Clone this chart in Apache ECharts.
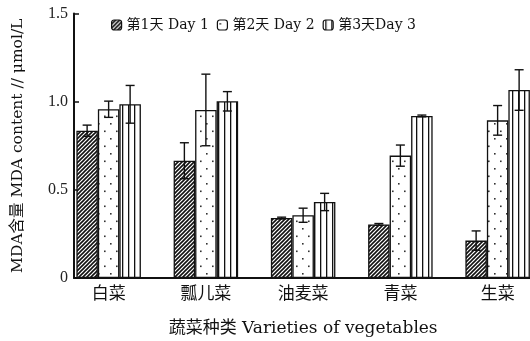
<!DOCTYPE html>
<html>
<head>
<meta charset="utf-8">
<script src="https://cdn.jsdelivr.net/npm/echarts@6/dist/echarts.min.js"></script>
<style>
  html, body { margin: 0; padding: 0; background: #fff; }
  #chart { width: 530px; height: 341px; }
</style>
</head>
<body>
<div id="chart"></div>
<script>
// Vegetable varieties and MDA content (μmol/L) over three days, with error half-widths
const categories = ['白菜', '瓢儿菜', '油麦菜', '青菜', '生菜'];
const seriesNames = ['第1天 Day 1', '第2天 Day 2', '第3天Day 3'];
const day1 = [0.835, 0.665, 0.340, 0.304, 0.212];
const day2 = [0.957, 0.953, 0.356, 0.694, 0.894];
const day3 = [0.985, 1.002, 0.431, 0.919, 1.066];
const err1 = [0.032, 0.102, 0.005, 0.005, 0.055];
const err2 = [0.046, 0.203, 0.040, 0.060, 0.084];
const err3 = [0.107, 0.055, 0.049, 0.005, 0.115];
const yTicks = [0, 0.5, 1.0, 1.5];

const FONT = '"DejaVu Serif", "Noto Sans CJK SC", serif';
const INK = '#111';
const BAR_W = 21.5;

// Fill patterns: diagonal hatch, dots, vertical stripes
function makeTile(w, h, draw) {
  const c = document.createElement('canvas');
  c.width = w; c.height = h;
  const ctx = c.getContext('2d');
  ctx.fillStyle = '#fff';
  ctx.fillRect(0, 0, w, h);
  draw(ctx);
  return c;
}
const hatchTile = makeTile(4, 4, ctx => {
  ctx.strokeStyle = '#111';
  ctx.lineWidth = 1.6;
  ctx.beginPath();
  ctx.moveTo(0, 4); ctx.lineTo(4, 0);
  ctx.moveTo(-1, 1); ctx.lineTo(1, -1);
  ctx.moveTo(3, 5); ctx.lineTo(5, 3);
  ctx.stroke();
});
const dotTile = makeTile(12, 15, ctx => {
  ctx.fillStyle = '#333';
  ctx.fillRect(2, 3, 1.6, 1.6);
  ctx.fillRect(8, 10.5, 1.6, 1.6);
});
const stripeTile = makeTile(6, 4, ctx => {
  ctx.fillStyle = '#111';
  ctx.fillRect(2, 0, 1.3, 4);
});
const patterns = [hatchTile, dotTile, stripeTile].map(img => ({ image: img, repeat: 'repeat' }));

const values = [day1, day2, day3];
const errors = [err1, err2, err3];

const barSeries = values.map((vals, i) => ({
  name: seriesNames[i],
  type: 'bar',
  xAxisIndex: 0,
  yAxisIndex: 0,
  barWidth: BAR_W,
  barGap: '0%',
  data: vals,
  itemStyle: { color: patterns[i], borderColor: INK, borderWidth: 1.3 },
  emphasis: { disabled: true },
  z: 2
}));

const errorSeries = values.map((vals, i) => ({
  name: 'err' + i,
  type: 'custom',
  xAxisIndex: 0,
  yAxisIndex: 0,
  z: 5,
  silent: true,
  data: vals.map((v, k) => [k, v - errors[i][k], v + errors[i][k]]),
  encode: { x: 0, y: [1, 2] },
  renderItem: function (params, api) {
    const lo = api.coord([api.value(0), api.value(1)]);
    const hi = api.coord([api.value(0), api.value(2)]);
    const x = lo[0] + (i - 1) * BAR_W;
    const cap = 4.5;
    const style = { stroke: INK, lineWidth: 1.4 };
    return {
      type: 'group',
      children: [
        { type: 'line', shape: { x1: x, y1: lo[1], x2: x, y2: hi[1] }, style },
        { type: 'line', shape: { x1: x - cap, y1: hi[1], x2: x + cap, y2: hi[1] }, style },
        { type: 'line', shape: { x1: x - cap, y1: lo[1], x2: x + cap, y2: lo[1] }, style }
      ]
    };
  }
}));

const chart = echarts.init(document.getElementById('chart'), null, { renderer: 'canvas' });
chart.setOption({
  backgroundColor: '#fff',
  animation: false,
  textStyle: { fontFamily: FONT, color: INK },
  legend: {
    data: seriesNames,
    left: 106,
    top: 13,
    itemWidth: 10,
    itemHeight: 10,
    itemGap: 8,
    textStyle: { fontFamily: FONT, fontSize: 14, color: INK },
    itemStyle: { borderColor: INK, borderWidth: 1.2 },
    selectedMode: false
  },
  grid: [
    // bars grid: category bands placed so the groups sit between the axes
    { left: 60, width: 486.25, top: 13.5, bottom: 63, outerBoundsMode: 'none' },
    // axis frame grid: the visible y axis and baseline
    { left: 74, right: 0, top: 13.5, bottom: 63, outerBoundsMode: 'none' }
  ],
  xAxis: [
    {
      type: 'category',
      gridIndex: 0,
      data: categories,
      axisLine: { show: false },
      axisTick: { show: false },
      axisLabel: { fontFamily: FONT, fontSize: 17, color: INK, margin: 8 },
      name: '蔬菜种类 Varieties of vegetables',
      nameLocation: 'middle',
      nameGap: 42,
      nameTextStyle: { fontFamily: FONT, fontSize: 17, color: INK }
    },
    {
      type: 'value',
      gridIndex: 1,
      min: 0,
      max: 1,
      axisLine: { show: true, lineStyle: { color: INK, width: 2 } },
      axisTick: { show: false },
      axisLabel: { show: false },
      splitLine: { show: false }
    }
  ],
  yAxis: [
    {
      type: 'value',
      gridIndex: 0,
      min: 0,
      max: 1.5,
      interval: 0.5,
      show: false
    },
    {
      type: 'value',
      gridIndex: 1,
      min: yTicks[0],
      max: yTicks[yTicks.length - 1],
      interval: 0.5,
      axisLine: { show: true, lineStyle: { color: INK, width: 2 } },
      axisTick: { show: true, inside: true, length: 5, lineStyle: { color: INK, width: 1.5 } },
      splitLine: { show: false },
      axisLabel: {
        fontFamily: '"Liberation Serif", serif',
        fontSize: 16,
        color: '#222',
        margin: 6,
        formatter: v => (v === 0 ? '0' : v.toFixed(1))
      },
      name: 'MDA含量 MDA content // μmol/L',
      nameLocation: 'middle',
      nameGap: 48,
      nameRotate: 90,
      nameTextStyle: { fontFamily: FONT, fontSize: 15.5, color: INK }
    }
  ],
  series: barSeries.concat(errorSeries)
});
</script>
</body>
</html>
